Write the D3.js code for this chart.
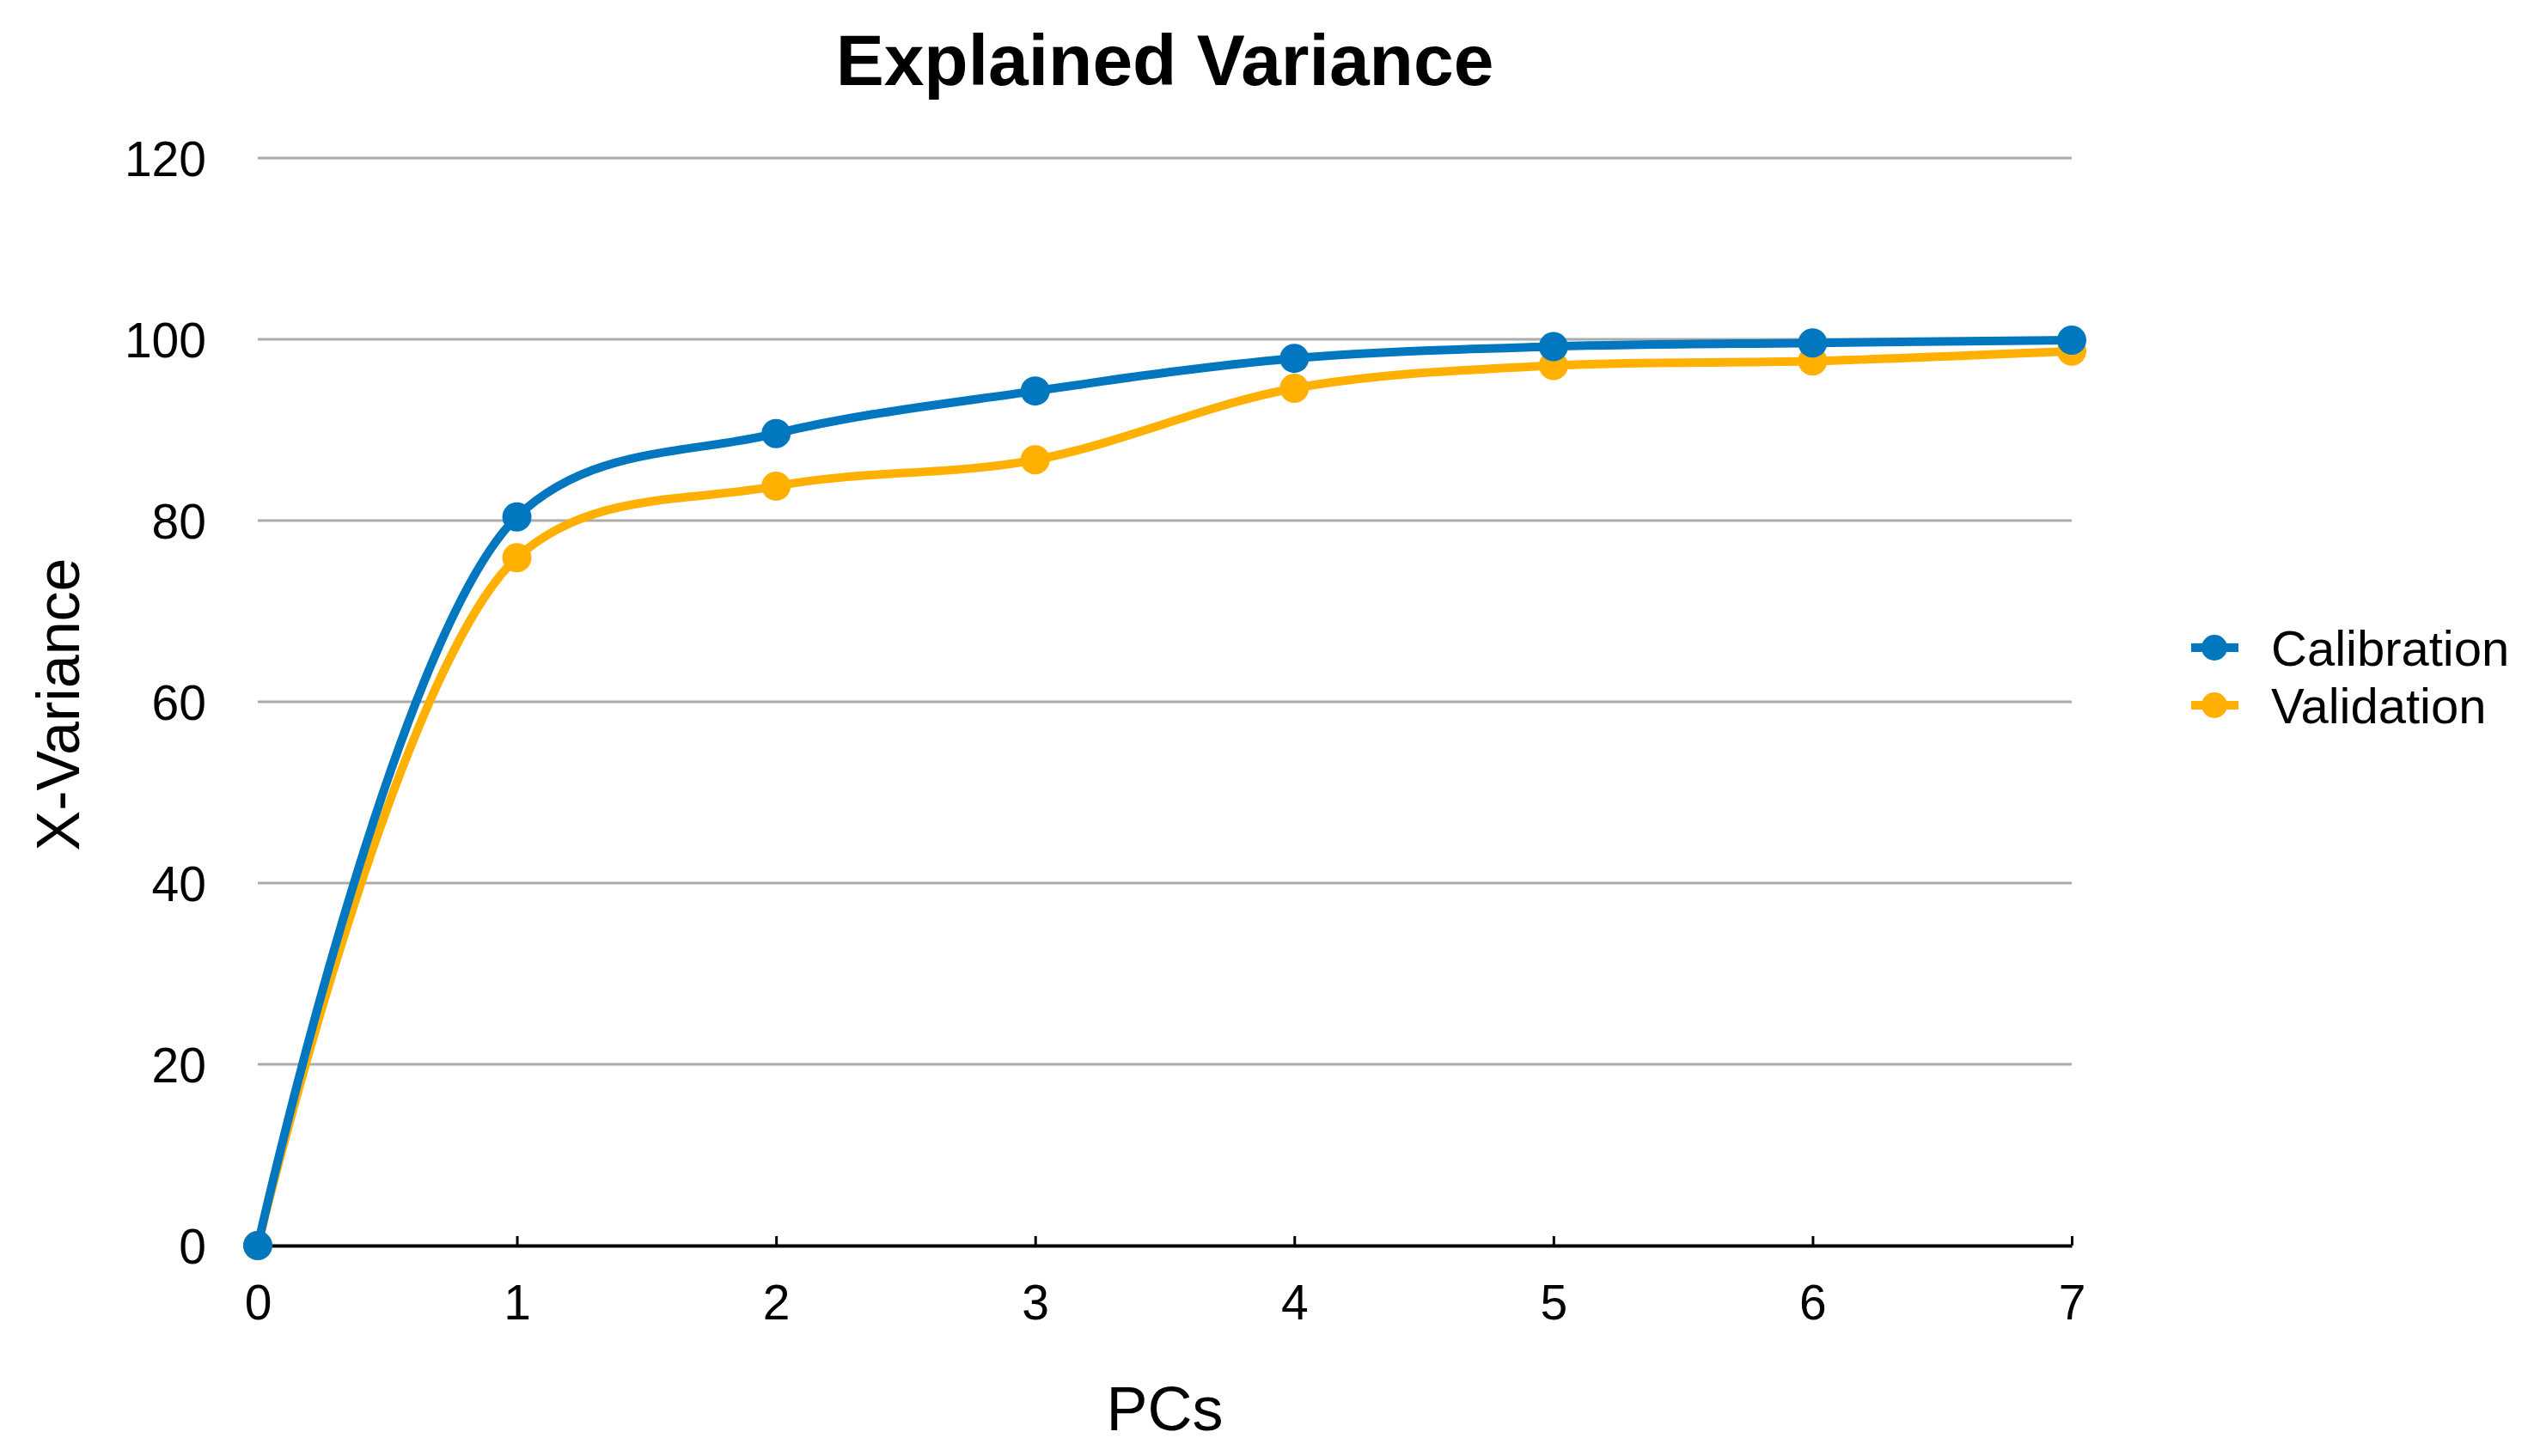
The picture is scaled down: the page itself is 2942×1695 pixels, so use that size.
<!DOCTYPE html>
<html lang="en">
<head>
    <meta charset="UTF-8">
    <title>Explained Variance</title>
    <script src="https://cdn.jsdelivr.net/npm/d3@7"></script>
    <style>
        html, body {
            margin: 0;
            padding: 0;
            background: #ffffff;
        }

        svg text {
            font-family: "Liberation Sans", Arial, Helvetica, sans-serif;
            fill: #000;
        }

        .grid line {
            stroke: #ababab;
            stroke-width: 3px;
        }
    </style>
</head>
<body>
<div id="chart"></div>
<script>
    // data
    let pcs = [0, 1, 2, 3, 4, 5, 6, 7];
    let calibration = [0, 80.4, 89.6, 94.3, 97.9, 99.2, 99.6, 99.9];
    let validation = [0, 75.9, 83.8, 86.7, 94.6, 97.1, 97.6, 98.7];
    let yTicks = [0, 20, 40, 60, 80, 100, 120];
    let seriesNames = ["Calibration", "Validation"];
    let seriesColors = ["#0077be", "#ffb000"];

    let W = 2942, H = 1695;
    let margin = {left: 300, right: 531, top: 184, bottom: 245};

    let svg = d3.select("#chart").append("svg")
        .attr("width", W)
        .attr("height", H);

    let x = d3.scaleLinear().domain([0, 7]).range([margin.left, W - margin.right]);
    let y = d3.scaleLinear().domain([0, 120]).range([H - margin.bottom, margin.top]);

    // gridlines
    svg.append("g")
        .attr("class", "grid")
        .selectAll("line")
        .data(yTicks.filter(d => d > 0))
        .enter().append("line")
        .attr("x1", x(0))
        .attr("x2", x(7))
        .attr("y1", d => y(d))
        .attr("y2", d => y(d));

    // y axis labels (no axis line)
    let yAxis = svg.append("g")
        .attr("transform", "translate(" + (x(0) - 60) + ",0)")
        .call(d3.axisLeft(y).tickValues(yTicks).tickSize(0).tickPadding(0));
    yAxis.select(".domain").remove();
    yAxis.selectAll("text")
        .style("font-size", "57px")
        .attr("dy", "0.36em");

    // x axis
    let xAxis = svg.append("g")
        .attr("transform", "translate(0," + y(0) + ")")
        .call(d3.axisBottom(x).tickValues(pcs).tickFormat(d3.format("d"))
            .tickSizeInner(-11).tickSizeOuter(0).tickPadding(46));
    xAxis.select(".domain")
        .attr("stroke", "#000")
        .attr("stroke-width", 4);
    xAxis.selectAll(".tick line")
        .attr("stroke", "#000")
        .attr("stroke-width", 3);
    xAxis.selectAll("text")
        .style("font-size", "57px")
        .attr("dy", "0.71em");

    // lines + dots, orange below blue
    let series = [
        {name: seriesNames[1], values: validation, color: seriesColors[1]},
        {name: seriesNames[0], values: calibration, color: seriesColors[0]}
    ];

    let line = d3.line()
        .x((d, i) => x(pcs[i]))
        .y(d => y(d))
        .curve(d3.curveCatmullRom.alpha(0.5));

    series.forEach(function (s) {
        svg.append("path")
            .attr("d", line(s.values))
            .attr("fill", "none")
            .attr("stroke", s.color)
            .attr("stroke-width", 10);

        svg.append("g")
            .selectAll("circle")
            .data(s.values)
            .enter().append("circle")
            .attr("cx", (d, i) => x(pcs[i]))
            .attr("cy", d => y(d))
            .attr("r", 17)
            .attr("fill", s.color);
    });

    // title
    svg.append("text")
        .attr("x", (x(0) + x(7)) / 2)
        .attr("y", 99)
        .attr("text-anchor", "middle")
        .style("font-size", "84px")
        .style("font-weight", "bold")
        .text("Explained Variance");

    // axis titles
    svg.append("text")
        .attr("x", (x(0) + x(7)) / 2)
        .attr("y", 1665)
        .attr("text-anchor", "middle")
        .style("font-size", "72px")
        .text("PCs");

    svg.append("text")
        .attr("transform", "translate(92," + 820 + ") rotate(-90)")
        .attr("text-anchor", "middle")
        .style("font-size", "70px")
        .text("X-Variance");

    // legend
    let legend = svg.append("g")
        .attr("transform", "translate(2577,754)");

    let lg = legend.selectAll("g")
        .data(seriesNames)
        .enter().append("g")
        .attr("transform", (d, i) => "translate(0," + i * 67 + ")");

    lg.append("line")
        .attr("x1", -27)
        .attr("x2", 28)
        .attr("stroke", (d, i) => seriesColors[i])
        .attr("stroke-width", 10);

    lg.append("circle")
        .attr("r", 15)
        .attr("fill", (d, i) => seriesColors[i]);

    lg.append("text")
        .attr("x", 66)
        .attr("y", 21)
        .style("font-size", "58px")
        .text(d => d);
</script>
</body>
</html>
